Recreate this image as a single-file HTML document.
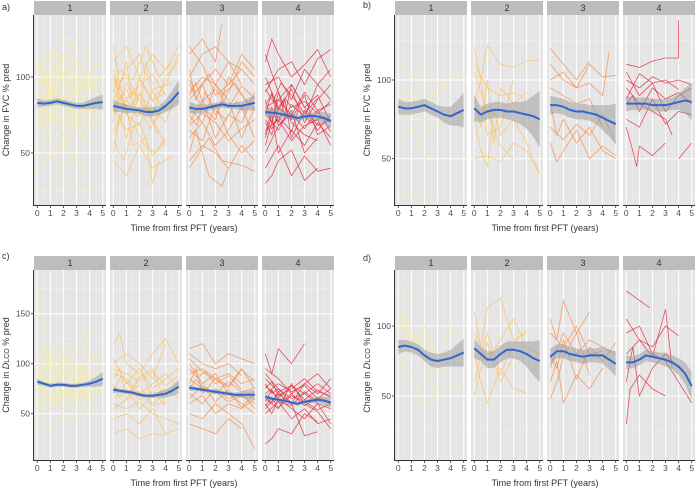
<!DOCTYPE html>
<html><head><meta charset="utf-8"><style>
body{margin:0;background:#fff}
svg{display:block;font-family:"Liberation Sans",sans-serif}
</style></head><body>
<svg id="chart" width="696" height="491" viewBox="0 0 696 491"></svg>
<script>
// ---- data ----
const facetLabels = ["1","2","3","4"];
const xTicks = [0,1,2,3,4,5];
const smoothT = [0,0.5,1,1.5,2,2.5,3,3.5,4,4.5,5];
const colors = ["#f9ef98","#fdc060","#fa8a46","#e3283c"];

const smoothA = [[83,82.5,83,84,83,82,81,81,82,83,83.5],[81,80,79,78.5,78,77,77,78,81,85,90],[80,79,79,80,81,82,81,81,81,82,83],[77,76.5,76,75,74,73,74,74.5,74,73,71]];
const smoothB = [[83,82,82,83,84,82,80,78,77,79,81],[82,78,80,81,81,80,80,79,78,77,75],[84,84,83,81,80,80,79,78,76,74,72],[85,85,85,85,84,84,84,85,86,87,86]];
const smoothC = [[82,80,78,79,79,78,78,79,80,82,85],[74,73,72,71,69,68,68,69,70,73,77],[76,75,74,73,72,71,70,69,69,69,69],[67,65,64,63,61,60,62,63,64,63,61]];
const smoothD = [[85,86,85,83,79,76,75,76,77,79,81],[84,80,76,76,80,83,83,82,80,77,75],[78,82,82,80,79,78,79,79,79,76,73],[74,74,76,79,78,77,76,74,71,66,57]];
const bandA = [[3,2,2,2,2,2,2,2,3,4,5],[4,3,3,2,2,3,3,3,4,6,8],[4,3,3,2,2,2,2,2,3,4,5],[4,3,3,2,2,2,2,2,3,4,5]];
const bandB = [[5,4,4,4,4,4,4,5,6,8,11],[8,5,5,5,5,5,6,7,9,13,18],[6,5,5,5,5,5,5,6,8,10,13],[5,4,4,4,4,4,4,4,5,8,12]];
const bandC = [[3,2,2,2,2,2,2,2,3,5,7],[3,2,2,2,2,2,2,3,4,5,7],[3,2,2,2,2,2,2,2,3,4,5],[3,2,2,2,2,2,2,2,3,4,5]];
const bandD = [[5,4,4,4,4,5,5,5,6,8,10],[7,5,6,6,6,6,6,7,9,12,15],[6,5,5,5,5,5,5,5,6,7,9],[5,4,4,4,4,4,5,5,6,8,10]];

const trajA = [
["0,95 1,105 2,98 3,110 4,100 5,92","0,70 0.8,62 1.6,75 2.5,68 3.5,80 4.5,72","0,120 1,112 2,125 3,118 4.2,108","0,85 0.5,90 1.5,78 2.5,95 3.2,88 4,96 5,85","0,55 1,60 2,52 3,65 4,58","0,100 0.7,95 1.5,108 2.2,100 3,92 4,105 4.8,98","0,25 1.5,30 3,28 4,25","0,78 1,85 2,80 3,74 4,82 5,88","0,110 0.6,98 1.2,115 2,102 2.8,112 3.6,100","0,65 1,72 2,88 3,76 4,70 5,64","0,92 1,80 2,70 3,85 4,78","0,45 0.8,55 1.8,40 2.8,50 3.8,45","0.2,88 1,96 1.8,92 2.5,102 3.5,95 4.5,110 5,105","0,105 1.2,118 2,110 3,125 4,115","0,75 0.5,68 1.5,90 2.5,82 3.5,60 4.5,75","0,60 1,95 2,62 3,100 4,90","0,115 1,90 2,84 3,70 4,96 5,100","0,38 1,48 2,58 3,44 4,35","0,82 1,70 2,115 3,96 4,82 5,70","0,90 0.5,100 1,88 1.5,104 2.5,92 3.5,98 4.5,88","0,72 0.5,80 1.2,94 2,86 3,90 4,78 5,80","0,98 1,92 2,82 3,88 3.8,100 4.6,92","0,62 0.7,78 1.4,70 2.2,58 3,72 4,66","0,108 0.6,102 1.5,96 2.4,106 3.4,98 4.4,96"],
["0,120 0.5,95 1,110 1.5,80 2,100 3,85 4,95 5,115","0,50 0.5,75 1,60 2,90 3,72 4,55","0,90 0.5,105 1.5,98 2.5,120 3.5,100 4.5,110","0,80 1,65 2,70 3,48 4,58","0,100 0.5,85 1,92 2,75 2.5,110 3,95","0,65 1,82 1.5,55 2.5,60 3,30 3.5,45","0,110 1,120 2,100 3,115 4,105 5,120","0,70 0.5,95 1,78 2,88 3,80 4,70 5,95","0,95 1,100 2,85 3,70 4,80","0,58 0.8,45 1.6,68 2.4,55 3.2,50 4,60","0,85 1,105 2,115 3,90 4,78 5,85","0,102 1,75 2,68 3,92 4.5,96","0,75 1.5,90 3,75 4,100 5,110","0,45 1,35 2,55 3,40 4.5,48","0,92 0.5,82 1,96 1.5,88 2,98 3,84 4,90","0,78 0.6,88 1.2,72 2,80 2.8,66 3.6,76","0,105 0.5,92 1,86 2,94 3,102 4,88","0,62 0.5,70 1,85 1.8,74 2.6,82 3.4,62"],
["0,115 1,125 2,110 2.5,135","0,90 1,100 2,95 3,110 4,105 5,95","0,60 1,70 2,55 3,65 4,80 5,60","0,105 0.5,85 1,95 2,75 3,90 4,110 5,100","0,45 1,55 2,50 3,40 4,55 5,45","0,80 1,70 2,95 3,85 4,60 5,80","0,100 1,115 2,120 3,110 4,95","0,70 1,85 2,60 3,75 4,70 5,90","0,50 0.5,65 1.5,35 2.5,28 3,40","0,95 1,80 2,72 3,100 4,88 5,78","0,85 1,95 2,105 3,95 4,115 5,105","0,65 1,58 2,82 3,62 4,50 5,58","0,120 1,108 2,88 3,95 4,105","0,40 1.5,60 2.5,45 4,42 5,38","0,88 0.5,96 1,84 2,92 3,80 4,94 5,86","0,75 0.6,68 1.2,90 2,78 2.8,72 3.6,84 4.4,76","0,98 0.5,90 1.5,102 2.5,88 3.5,96 4.5,82","0,68 1,76 2,70 3,58 4,66 5,72"],
["0,110 0.5,125 1,115 2,100 3,108 4,118 5,100","0,85 0.5,70 1,90 1.5,75 2,95 3,80 4,88 5,70","0,60 0.5,75 1,50 2,65 3,55 4,70 5,60","0,95 1,100 2,85 3,105 4,95 5,85","0,75 0.5,90 1,70 1.5,85 2,60 3,78 4,65 5,75","0,40 1,55 2,35 3,48 4,38 5,40","0,100 1,80 2,92 3,70 4,85 5,95","0,70 0.5,62 1,80 2,72 3,88 4,62 5,68","0,50 1,68 2,78 3,50 4,60","0,90 1,105 2,110 3,95 4,112 5,118","0,30 0.5,35 1,45 2,52 3,32 4,40","0,80 1,85 2,75 3,90 4,78 5,82","0,65 1,72 2,58 3,68 4,72 5,55","0,115 1,90 2,70 3,62 4,58","0,78 0.5,70 1,65 2,82 3,74 4,95 5,105","0,55 1,85 2,95 3,80 4,68 5,72","0,82 0.5,88 1,78 1.5,86 2,80 3,84 4,76 5,84","0,72 0.5,66 1,74 2,64 2.5,78 3.5,70 4.5,74","0,92 0.6,84 1.2,96 2,88 3,76 4,86","0,62 0.5,80 1,68 2,76 3,66 4,78 5,64"]
];
const trajB = [
["0,115 1,100 2,112 2.5,110","0,95 1,85 2,98 3,88 4,105 5,102","0,75 1,80 2,68 3,72 4,80 5,75","0,60 1,70 2,50 3,58 4,65","0,85 1,95 2,75 3,100 4,90","0,30 1,28 2,25 3,22"],
["0,120 0.5,100 1,122 2,110 3,108 4,112 5,113","0,90 0.5,70 1,100 1.5,60 2,95 3,85 4,92","0,75 0.5,55 1,45 1.5,80 2,65 3,75 4,60 5,40","0,110 1,95 2,90 3,92 4,88","0,50 1,52 2,48 3,60 4,55 5,40","0,85 0.5,100 1,65 2,70 3,100","0,105 1,80 2,58 3,50"],
["0,120 1,110 2,100 3,112","0,100 1,105 2,95 3,110 4,102 5,103","0,85 0.5,65 1,75 2,60 3,70 4,55 5,50","0,70 1,62 2,72 3,65 4,78 5,60","0,95 1,90 2,85 3,88 4,70","0,60 0.5,48 1,55 2,68 3,50 4,58 5,52","0,110 1,100 2,95 3,98 4,90 4.5,118"],
["0,110 1,108 2,112 3,114 4,114 4,138","0,100 1,95 2,102 3,98 4,100 5,97","0,85 0.5,90 1,80 2,95 3,88 4,92 5,85","0,70 0.5,55 0.8,45 1,58 2,52 3,60","0,95 1,85 2,80 3,75 3.5,65","0,105 1,90 2,98 3,80 4,90 5,95","0,75 1,70 2,88 3,72 4,80 5,78","4,50 5,60","0,88 1,104 2,98 3,100 4,94"]
];
const trajC = [
["0,180 0.5,120 1,95 2,110 3,80 4,100 5,120","0,90 1,80 2,105 3,70 4,130 5,145","0,60 1,70 2,55 3,85 4,62 5,75","0,110 1,95 2,85 3,100 4,90 5,80","0,45 1,30 2,50 3,40 4,55","0,75 1,85 2,72 3,90 4,75 5,68","0,100 0.5,80 1,115 2,95 3,110 4,140","0,65 1,55 2,68 3,50 4,60 5,50","0,85 1,110 2,120 3,90 4,85","0,50 1,62 2,78 3,65 4,95 5,90","0,120 1,100 2,80 3,60 4,72","0,72 1,90 2,66 3,80 4,110 5,100","0,95 0.5,85 1,100 2,88 3,96 4,84 5,92","0,68 0.6,76 1.2,62 2,72 3,64 4,78","0,105 0.5,118 1.5,96 2.5,104 3.5,92","0,58 1,82 2,92 3,74 4,66 5,86"],
["0,120 0.5,130 1,100 2,90 3,110 4,125 5,100","0,90 1,85 2,70 3,80 4,90 5,75","0,60 1,55 2,62 3,50 4,45 5,40","0,105 1,80 2,95 3,75 4,85 5,95","0,75 1,70 2,78 3,60 4,70 5,80","0,45 1,50 2,40 3,55 4,30 5,35","0,85 0.5,95 1,65 2,85 3,95 4,60","0,65 1,75 2,55 3,68 4,75 5,65","0,30 1,35 2,25 3,30 4,28","0,100 1,110 2,100 3,85 4,120","0,80 0.5,66 1,82 2,64 3,72 4,58","0,70 0.6,88 1.4,76 2.2,90 3,66 4,74","0,95 1,90 2,82 3,92 4,78 5,88","0,55 1,64 2,72 3,58 4,62"],
["0,115 1,120 2,100 3,110 4,105 5,100","0,90 1,95 2,85 3,90 4,80 5,85","0,70 1,60 2,75 3,65 4,70 5,55","0,100 1,80 2,90 3,70 4,60 5,50","0,50 1,45 2,60 3,50 4,40 5,15","0,80 0.5,95 1,70 2,85 3,78 4,95 5,75","0,60 1,68 2,50 3,60 4,55 5,65","0,110 1,100 2,95 3,100 4,88","0,40 1,35 2,30 3,45 4,35","0,85 1,75 2,72 3,62 4,68 5,60","0,75 0.5,84 1,78 2,70 3,82 4,72 5,76","0,95 0.6,86 1.2,92 2,80 3,88 4,74","0,65 1,78 2,62 3,74 4,56 5,70","0,105 1,92 2,84 3,76 4,94 5,82"],
["0,110 0.5,90 1,115 2,100 3,120","0,80 0.5,70 1,75 2,60 3,80 4,70 5,85","0,60 0.5,50 1,65 2,55 3,45 4,60 5,40","0,70 1,80 2,72 3,78 4,65 5,75","0,20 0.5,25 1,35 2,30 3,50 4,42","0,95 1,85 2,70 3,80 4,90 5,75","0,65 1,55 2,80 3,60 4,52 5,35","0,75 0.5,82 1,68 2,75 3,85 4,72 5,68","0,50 1,62 2,45 3,55 4,40 5,45","0,90 1,75 2,65 3,70 4,60 5,55","0,55 1,70 2,60 3,28 4,32","0,68 0.5,60 1,72 1.5,64 2,70 3,58 4,66 5,62","0,78 0.5,72 1,66 2,78 3,70 4,80 5,70","0,58 0.5,66 1,56 2,68 3,62 4,54 5,60","0,85 1,72 2,78 3,64 4,74 5,66","0,62 0.5,74 1,62 2,58 3,72 4,62"]
];
const trajD = [
["0,135 0.5,120","0,95 0.5,110 1,80 2,95 3,75 4,100 5,90","0,80 0.5,70 1,95 2,85 3,70 4,65","0,100 1,90 2,75 3,45 4,60 5,55","0,110 1,85 2,100 3,80","0,75 1,65 2,40 3,55"],
["0,110 0.5,85 1,113 2,120 3,90 4,95","0,80 0.5,60 1,45 2,70 3,55 4,52","0,95 1,75 2,90 3,105 4,85 5,80","0,60 1,95 2,65 3,88 4,97","0,50 1,88 2,60 3,78"],
["0,105 0.5,90 1,118 2,95 3,110","0,80 0.5,70 1,90 2,62 3,85 4,75 5,88","0,95 1,85 2,100 3,80 4,82","0,60 0.5,75 1,45 2,65 3,55 4,70","0,70 1,95 2,80 3,90 4,85 5,80","0,48 0.5,60 1,78 2,95 3,65"],
["0,125 1.8,113","0,105 1,90 2,85 3,100 4,93","0,60 0.5,85 1,50 2,70 3,80 4,70","0,30 0.3,55 1,65 2,55 3,50","0,95 1,100 2,80 3,75 4,60 5,45","0,80 1,90 2,78 3,112 3.5,70"]
];

// ---- layout ----
const NS = "http://www.w3.org/2000/svg";
const svg = document.getElementById("chart");
function mk(tag, attrs, parent) {
  const e = document.createElementNS(NS, tag);
  for (const k in attrs) e.setAttribute(k, attrs[k]);
  (parent || svg).appendChild(e);
  return e;
}
const panels = [
  {id:"a", label:"a)", lx:2, ly:10, fx:[34,110,186,262], top:15, bottom:205, v0:100, p0:77, k:1.52, yt:[50,100], ym:[25,75,125], traj:trajA, sm:smoothA, band:bandA, title:"FVC"},
  {id:"b", label:"b)", lx:363, ly:8, fx:[395,471,547,623], top:15, bottom:205, v0:100, p0:80, k:1.574, yt:[50,100], ym:[25,75,125], traj:trajB, sm:smoothB, band:bandB, title:"FVC"},
  {id:"c", label:"c)", lx:2, ly:259, fx:[34,110,186,262], top:270, bottom:460, v0:100, p0:363.7, k:1.0, yt:[50,100,150], ym:[75,125,175], traj:trajC, sm:smoothC, band:bandC, title:"DLCO"},
  {id:"d", label:"d)", lx:363, ly:261, fx:[395,471,547,623], top:270, bottom:460, v0:100, p0:326, k:1.4, yt:[50,100], ym:[25,75,125], traj:trajD, sm:smoothD, band:bandD, title:"DLCO"}
];
const FW = 72;

panels.forEach(P => {
  const g = mk("g", {});
  
  
  const yS = v => P.p0 + (P.v0 - v) * P.k;
  const lab = mk("text", {x:P.lx, y:P.ly, "font-size":9, fill:"#333"}, g);
  lab.textContent = P.label;
  
  
  P.fx.forEach((x0, fi) => {
    const xS = t => x0 + (t + 0.25) / 5.5 * FW;
    const fg = mk("g", {}, g);
    
    
    mk("rect", {x:x0, y:P.top, width:FW, height:P.bottom - P.top, fill:"#e5e5e5"}, fg);
    const strip = mk("rect", {x:x0, y:P.top - 14, width:FW, height:14, fill:"#bdbdbd"}, fg);
    
    
    const st = mk("text", {x:x0 + FW/2, y:P.top - 4, "font-size":9, fill:"#333", "text-anchor":"middle"}, fg);
    st.textContent = facetLabels[fi];
    P.ym.forEach(v => { const y = yS(v); if (y > P.top && y < P.bottom) mk("line", {x1:x0, x2:x0+FW, y1:y, y2:y, stroke:"#f2f2f2", "stroke-width":0.5}, fg); });
    for (let t = 0.5; t < 5; t += 1) mk("line", {x1:xS(t), x2:xS(t), y1:P.top, y2:P.bottom, stroke:"#f2f2f2", "stroke-width":0.5}, fg);
    P.yt.forEach(v => mk("line", {x1:x0, x2:x0+FW, y1:yS(v), y2:yS(v), stroke:"#fff", "stroke-width":1}, fg));
    xTicks.forEach(t => mk("line", {x1:xS(t), x2:xS(t), y1:P.top, y2:P.bottom, stroke:"#fff", "stroke-width":1}, fg));
    P.traj[fi].forEach(s => {
      const pts = s.split(" ").map(p => p.split(",").map(Number)).map(([t, v]) => xS(t).toFixed(1) + "," + yS(v).toFixed(1)).join(" ");
      const pl = mk("polyline", {points:pts, fill:"none", stroke:colors[fi], "stroke-width":0.8, "stroke-opacity":0.8}, fg);
      
      
    });
    const sm = P.sm[fi], bd = P.band[fi];
    const up = smoothT.map((t, i) => xS(t) + "," + yS(sm[i] + bd[i]));
    const lo = smoothT.map((t, i) => xS(t) + "," + yS(sm[i] - bd[i])).reverse();
    const band = mk("polygon", {points:up.concat(lo).join(" "), fill:"#999", "fill-opacity":0.5}, fg);
    
    
    const line = mk("polyline", {points:smoothT.map((t, i) => xS(t) + "," + yS(sm[i])).join(" "), fill:"none", stroke:"#3366cc", "stroke-width":2, "stroke-linejoin":"round"}, fg);
    
    
    mk("line", {x1:x0, x2:x0+FW, y1:P.bottom + 0.5, y2:P.bottom + 0.5, stroke:"#333", "stroke-width":1}, fg);
    xTicks.forEach(t => {
      mk("line", {x1:xS(t), x2:xS(t), y1:P.bottom, y2:P.bottom + 3, stroke:"#333", "stroke-width":0.8}, fg);
      const tl = mk("text", {x:xS(t), y:P.bottom + 11, "font-size":8.5, fill:"#4d4d4d", "text-anchor":"middle"}, fg);
      tl.textContent = t;
      
      
    });
  });
  const x0 = P.fx[0];
  mk("line", {x1:x0 - 0.5, x2:x0 - 0.5, y1:P.top, y2:P.bottom + 1, stroke:"#333", "stroke-width":1}, g);
  P.yt.forEach(v => {
    mk("line", {x1:x0 - 3, x2:x0, y1:yS(v), y2:yS(v), stroke:"#333", "stroke-width":0.8}, g);
    const tl = mk("text", {x:x0 - 4, y:yS(v) + 3, "font-size":8.5, fill:"#4d4d4d", "text-anchor":"end"}, g);
    tl.textContent = v;
    
    
  });
  const xt = mk("text", {x:(P.fx[0] + P.fx[3] + FW) / 2, y:P.bottom + 26, "font-size":9, fill:"#333", "text-anchor":"middle"}, g);
  xt.textContent = "Time from first PFT (years)";
  
  
  const cy = (P.top + P.bottom) / 2;
  const tx = x0 - 25;
  const yt = mk("text", {x:tx, y:cy, "font-size":9, fill:"#333", "text-anchor":"middle", transform:"rotate(-90 " + tx + " " + cy + ")"}, g);
  
  
  if (P.title === "FVC") {
    yt.textContent = "Change in FVC % pred";
  } else {
    const a = mk("tspan", {}, yt); a.textContent = "Change in ";
    const b = mk("tspan", {"font-style":"italic"}, yt); b.textContent = "D";
    const c = mk("tspan", {"font-size":7}, yt); c.textContent = "LCO";
    const d = mk("tspan", {}, yt); d.textContent = "  % pred";
  }
});
</script>
</body></html>
